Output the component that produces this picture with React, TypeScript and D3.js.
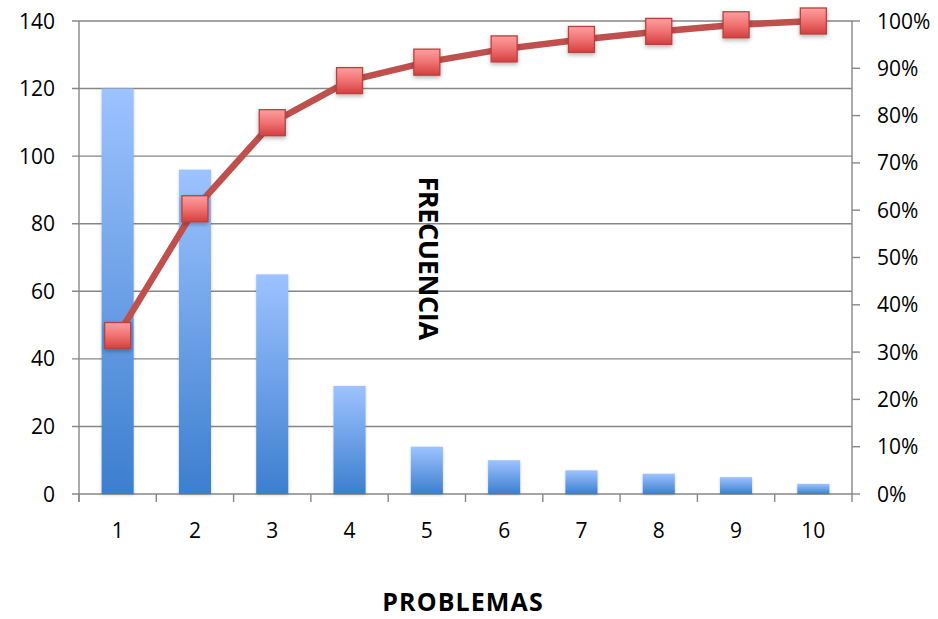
import React from "react";
import * as d3 from "d3";

const categories = ["1", "2", "3", "4", "5", "6", "7", "8", "9", "10"];
const frecuencia = [120, 96, 65, 32, 14, 10, 7, 6, 5, 3];
const acumulado = [33.5, 60.3, 78.5, 87.4, 91.3, 94.1, 96.1, 97.8, 99.2, 100];
const leftTicks = [0, 20, 40, 60, 80, 100, 120, 140];
const rightTicks = [0, 10, 20, 30, 40, 50, 60, 70, 80, 90, 100];

const W = 938;
const H = 619;
const M = { left: 79, right: 852, top: 21, bottom: 494 };
const FONT = "'Open Sans', 'Liberation Sans', sans-serif";
const GRID = "#878787";

export default function App() {
  const x = d3.scaleBand<string>().domain(categories).range([M.left, M.right]).paddingInner(0).paddingOuter(0);
  const yL = d3.scaleLinear().domain([0, 140]).range([M.bottom, M.top]);
  const yR = d3.scaleLinear().domain([0, 100]).range([M.bottom, M.top]);
  const bw = x.bandwidth() * 0.415;
  const cx = (c: string) => (x(c) as number) + x.bandwidth() / 2;
  const line = d3
    .line<number>()
    .x((_, i) => cx(categories[i]))
    .y((d) => yR(d));
  const ms = 26;

  return (
    <svg width={W} height={H} style={{ position: "absolute", left: 0, top: 0, background: "#fff" }}>
      <defs>
        <linearGradient id="barG" x1="0" y1="0" x2="0" y2="1">
          <stop offset="0" stopColor="#9dc3ff" />
          <stop offset="1" stopColor="#3c7ecf" />
        </linearGradient>
        <linearGradient id="mkG" x1="0" y1="0" x2="0" y2="1">
          <stop offset="0" stopColor="#ff9f9f" />
          <stop offset="0.5" stopColor="#f07272" />
          <stop offset="1" stopColor="#d43f3f" />
        </linearGradient>
        <filter id="sh" x="-30%" y="-30%" width="160%" height="160%">
          <feDropShadow dx="0" dy="2" stdDeviation="2" floodColor="#000" floodOpacity="0.3" />
        </filter>
        <filter id="bsh" x="-20%" y="-5%" width="140%" height="110%">
          <feDropShadow dx="0" dy="1" stdDeviation="1.5" floodColor="#000" floodOpacity="0.2" />
        </filter>
      </defs>

      {/* gridlines */}
      {leftTicks.map((t) => (
        <line key={"g" + t} x1={M.left - 7} x2={M.right} y1={yL(t)} y2={yL(t)} stroke={GRID} strokeWidth={1.4} />
      ))}
      {/* left axis */}
      <line x1={M.left} x2={M.left} y1={M.top} y2={M.bottom + 8} stroke={GRID} strokeWidth={1.4} />
      {/* right axis */}
      <line x1={M.right} x2={M.right} y1={M.top} y2={M.bottom + 8} stroke={GRID} strokeWidth={1.4} />
      {rightTicks.map((t) => (
        <line key={"rt" + t} x1={M.right} x2={M.right + 8} y1={yR(t)} y2={yR(t)} stroke={GRID} strokeWidth={1.4} />
      ))}
      {/* x ticks */}
      {categories.map((c) => (
        <line key={"xt" + c} x1={x(c) as number} x2={x(c) as number} y1={M.bottom} y2={M.bottom + 8} stroke={GRID} strokeWidth={1.4} />
      ))}

      {/* bars */}
      {categories.map((c, i) => (
        <rect
          key={"b" + c}
          x={cx(c) - bw / 2}
          y={yL(frecuencia[i])}
          width={bw}
          height={yL(0) - yL(frecuencia[i])}
          fill="url(#barG)"
          filter="url(#bsh)"
        />
      ))}

      {/* line */}
      <path d={line(acumulado) || ""} fill="none" stroke="#c0504d" strokeWidth={6.5} strokeLinejoin="round" />
      {acumulado.map((v, i) => (
        <rect
          key={"m" + i}
          x={cx(categories[i]) - ms / 2}
          y={yR(v) - ms / 2}
          width={ms}
          height={ms}
          fill="url(#mkG)"
          stroke="#b8413e"
          strokeWidth={1.3}
          filter="url(#sh)"
        />
      ))}

      {/* left tick labels */}
      {leftTicks.map((t) => (
        <text key={"lt" + t} x={55} y={yL(t)} dy="0.36em" textAnchor="end" fontFamily={FONT} fontSize={21} fill="#000">
          {t}
        </text>
      ))}
      {/* right tick labels */}
      {rightTicks.map((t) => (
        <text key={"rl" + t} x={877} y={yR(t)} dy="0.36em" textAnchor="start" fontFamily={FONT} fontSize={21} fill="#000">
          {t + "%"}
        </text>
      ))}
      {/* x labels */}
      {categories.map((c) => (
        <text key={"xl" + c} x={cx(c)} y={530} dy="0.36em" textAnchor="middle" fontFamily={FONT} fontSize={21} fill="#000">
          {c}
        </text>
      ))}

      <text
        x={0}
        y={0}
        transform={`translate(419, 258) rotate(90)`}
        textAnchor="middle"
        fontFamily={FONT}
        fontWeight="bold"
        fontSize={27}
        letterSpacing={-0.4}
        fill="#000"
      >
        FRECUENCIA
      </text>
      <text x={463} y={611} textAnchor="middle" fontFamily={FONT} fontWeight="bold" fontSize={25} letterSpacing={1.1} fill="#000">
        PROBLEMAS
      </text>
    </svg>
  );
}
